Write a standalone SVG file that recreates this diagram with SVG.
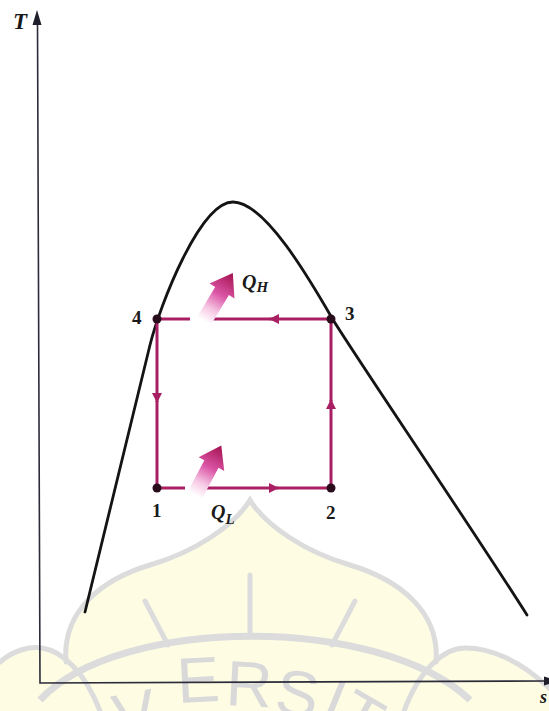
<svg xmlns="http://www.w3.org/2000/svg" width="549" height="711" viewBox="0 0 549 711">
<defs>
<style>
.wm-fill{fill:#fefde4;stroke:none}
.wm-line{fill:none;stroke:#dcdcdc;stroke-width:5;stroke-linecap:round}
.wm-ring{fill:none;stroke:#dcdcdc;stroke-width:7}
.wm-text{font-family:"Liberation Sans",Arial,sans-serif;font-size:64px;fill:#d9d9d9}
.axis{fill:none;stroke:#2b2b3a;stroke-width:1.6}
.dome{fill:none;stroke:#141414;stroke-width:2.8;stroke-linecap:round;stroke-linejoin:round}
.cyc{fill:none;stroke:#a81f63;stroke-width:3}
.node{fill:#2a0d1c}
.num{font-family:"Liberation Serif","Times New Roman",serif;font-size:19px;font-weight:bold;fill:#1a1a1a}
.q{font-family:"Liberation Serif","Times New Roman",serif;font-style:italic;font-weight:bold;fill:#1a1a1a}
</style>
<marker id="ah" viewBox="0 0 10 10" refX="9" refY="5" markerUnits="userSpaceOnUse" markerWidth="11" markerHeight="10" orient="auto"><path d="M0,0 L10,5 L0,10 z" fill="#a81f63"/></marker>
<linearGradient id="qg" gradientUnits="userSpaceOnUse" x1="0" y1="0" x2="56" y2="0">
<stop offset="0" stop-color="#ffffff"/>
<stop offset="0.25" stop-color="#f6c6e3"/>
<stop offset="0.55" stop-color="#db55a6"/>
<stop offset="1" stop-color="#a3114f"/>
</linearGradient>
<path id="qarrow" d="M0,-8 L35,-8 L35,-14.5 L56,0 L35,14.5 L35,8 L0,8 Z" fill="url(#qg)"/>
</defs>
<rect width="549" height="711" fill="#ffffff"/>
<g id="watermark">
<path class="wm-fill" d="M0,662 C14,650 30,646 42,648 C52,650 60,654 66,660 C62,612 100,580 150,565 C195,552 235,525 250,500 C265,525 305,552 350,565 C400,580 440,612 436,660 C445,652 455,648 465,648 C490,648 520,660 549,688 L549,711 L0,711 Z"/>
<path class="wm-line" d="M0,662 C14,650 30,646 42,648 C62,651 85,672 100,711"/>
<path class="wm-line" d="M66,662 C62,612 100,580 150,565 C195,552 235,525 250,500 C265,525 305,552 350,565 C400,580 440,612 436,662"/>
<path class="wm-line" d="M549,688 C520,660 490,648 465,648 C445,648 420,668 404,711"/>
<path class="wm-ring" d="M40,700 C120,615 380,615 470,700"/>
<path class="wm-line" d="M145,601 L168,645 M250,575 L250,636 M355,601 L332,645"/>
<text class="wm-text" x="118 178 225 273 318 333" y="740 703 705 712 719 726" rotate="-11 -3 3 9 22 30">VERSIT</text>
</g>
<g id="axes">
<path class="axis" d="M37.5,22 L40,683 L544,681"/>
<polygon points="37,10 32.5,25 41.5,25" fill="#1e1e2a"/>
<polygon points="559,681 544,676.5 544,685.5" fill="#1e1e2a"/>
<text x="13" y="29" font-family="Liberation Serif, serif" font-style="italic" font-weight="bold" font-size="23" fill="#1a1a1a">T</text>
<text x="540" y="703" font-family="Liberation Serif, serif" font-style="italic" font-weight="bold" font-size="18" fill="#1a1a1a">s</text>
</g>
<g id="dome">
<path class="dome" d="M85,612 L150,345 C160,305 200,202 233,202 C265,202 310,280 332,318 C347,344 470,525 527,615"/>
</g>
<g id="connectors">
<path class="cyc" d="M331,319 L270,319" marker-end="url(#ah)"/>
<path class="cyc" d="M271,319 L212,319 M190,319 L157,319"/>
<path class="cyc" d="M157,319 L157,402" marker-end="url(#ah)"/>
<path class="cyc" d="M157,401 L157,488"/>
<path class="cyc" d="M157,488 L185,488 M205,488 L278,488" marker-end="url(#ah)"/>
<path class="cyc" d="M277,488 L331,488"/>
<path class="cyc" d="M331,488 L331,400" marker-end="url(#ah)"/>
<path class="cyc" d="M331,401 L331,319"/>
</g>
<g id="heat-in">
<use href="#qarrow" transform="translate(195,495) rotate(-62)"/>
<text class="q" x="211" y="519" font-size="20">Q<tspan font-size="15" dy="5">L</tspan></text>
</g>
<g id="heat-out">
<use href="#qarrow" transform="translate(204,321) rotate(-59)"/>
<text class="q" x="242" y="289" font-size="20">Q<tspan font-size="15" dy="3">H</tspan></text>
</g>
<g id="node-1">
<circle class="node" cx="157" cy="488" r="4.5"/>
<text class="num" x="152" y="517">1</text>
</g>
<g id="node-2">
<circle class="node" cx="331" cy="488" r="4.5"/>
<text class="num" x="326" y="519">2</text>
</g>
<g id="node-3">
<circle class="node" cx="331" cy="319" r="4.5"/>
<text class="num" x="345" y="320">3</text>
</g>
<g id="node-4">
<circle class="node" cx="157" cy="319" r="4.5"/>
<text class="num" x="132" y="324">4</text>
</g>
</svg>
